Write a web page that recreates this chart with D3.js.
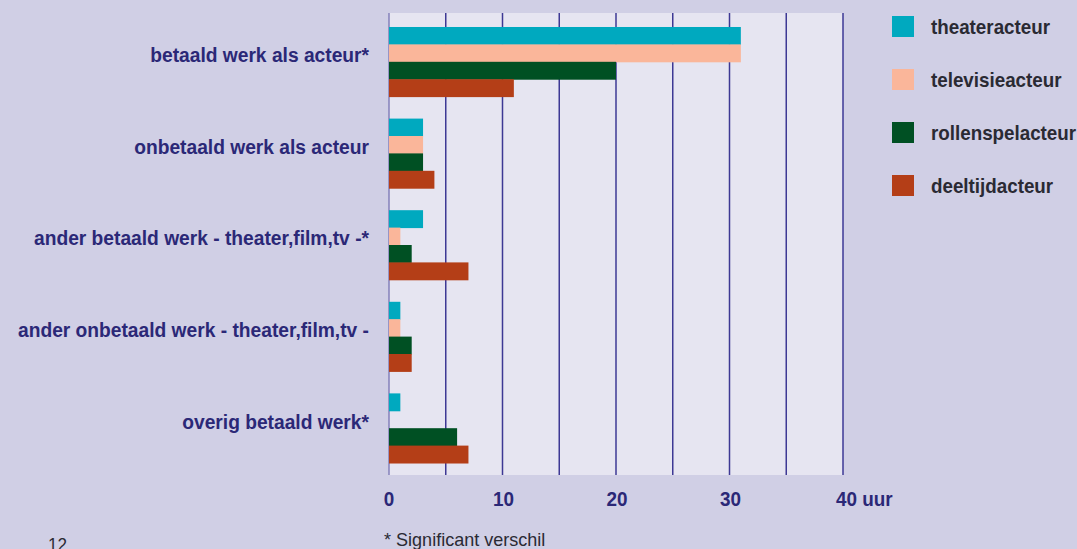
<!DOCTYPE html>
<html>
<head>
<meta charset="utf-8">
<script src="https://cdn.jsdelivr.net/npm/d3@7"></script>
<style>
  body { margin: 0; background: #d0cfe5; }
  svg { display: block; }
  text { font-family: "Liberation Sans", Arial, sans-serif; }
  .cat-label { font-weight: bold; font-size: 21px; fill: #2b2877; }
  .tick-label { font-weight: bold; font-size: 21px; fill: #2b2877; }
  .legend-label { font-weight: bold; font-size: 20px; fill: #2a2a33; }
  .note { font-size: 19px; fill: #2a2a33; }
</style>
</head>
<body>
<div class="vis-barchart"></div>
<script>
const categories = [
  "betaald werk als acteur*",
  "onbetaald werk als acteur",
  "ander betaald werk - theater,film,tv -*",
  "ander onbetaald werk - theater,film,tv -",
  "overig betaald werk*"
];
const seriesNames = ["theateracteur", "televisieacteur", "rollenspelacteur", "deeltijdacteur"];
const seriesColors = ["#00a9bf", "#fab69a", "#005023", "#b43e17"];
const theaterValues = [31, 3, 3, 1, 1];
const televisieValues = [31, 3, 1, 1, 0];
const rollenspelValues = [20, 3, 2, 2, 6];
const deeltijdValues = [11, 4, 7, 2, 7];
const tickValues = [0, 10, 20, 30, 40];

const allValues = [theaterValues, televisieValues, rollenspelValues, deeltijdValues];

const width = 1077, height = 549;
const plot = { left: 389, right: 843, top: 13, bottom: 475 };
// condensed look (Helvetica Condensed is not available)
const squeeze = 0.915;

const svg = d3.select(".vis-barchart")
  .append("svg")
  .attr("width", width)
  .attr("height", height);

svg.append("rect")
  .attr("width", width).attr("height", height)
  .attr("fill", "#d0cfe5");

let x = d3.scaleLinear().domain([0, 40]).range([plot.left, plot.right]);
let y = d3.scaleBand()
  .domain(categories)
  .range([plot.top + 3, plot.bottom - 1])
  .paddingInner(0.24)
  .paddingOuter(0.12);
let ySub = d3.scaleBand().domain(seriesNames).range([0, y.bandwidth()]);

// plot background
svg.append("rect")
  .attr("x", plot.left).attr("y", plot.top)
  .attr("width", plot.right - plot.left)
  .attr("height", plot.bottom - plot.top)
  .attr("fill", "#e6e5f1");

// grid lines every 5 uur
svg.append("g")
  .selectAll("line")
  .data(d3.range(0, 41, 5))
  .enter()
  .append("line")
  .attr("x1", (d) => x(d)).attr("x2", (d) => x(d))
  .attr("y1", plot.top).attr("y2", plot.bottom)
  .attr("stroke", (d) => (d === 0 ? "#8481ba" : "#3d3894"))
  .attr("stroke-width", 1.5);

// bars
const groups = svg.append("g")
  .selectAll("g")
  .data(categories)
  .enter()
  .append("g")
  .attr("transform", (d) => "translate(0," + y(d) + ")");

groups.selectAll("rect")
  .data((d, i) => seriesNames.map((s, j) => ({ series: s, value: allValues[j][i], color: seriesColors[j] })))
  .enter()
  .append("rect")
  .attr("x", x(0))
  .attr("y", (d) => ySub(d.series))
  .attr("width", (d) => x(d.value) - x(0))
  .attr("height", ySub.bandwidth() + 0.5)
  .attr("fill", (d) => d.color);

// category labels
svg.append("g")
  .selectAll("text")
  .data(categories)
  .enter()
  .append("text")
  .attr("class", "cat-label")
  .attr("transform", (d) => "translate(369," + (y(d) + y.bandwidth() / 2 - 7) + ") scale(" + squeeze + ",1)")
  .attr("dy", "0.35em")
  .style("text-anchor", "end")
  .text((d) => d);

// x tick labels
svg.append("g")
  .selectAll("text")
  .data(tickValues)
  .enter()
  .append("text")
  .attr("class", "tick-label")
  .attr("transform", (d) => "translate(" + (x(d) + (d === 0 ? 0 : 1) + (d === 40 ? -8 : 0)) + ",506) scale(0.9,1)")
  .style("text-anchor", (d) => (d === 40 ? "start" : "middle"))
  .text((d) => (d === 40 ? d + " uur" : d));

// legend
const legend = svg.append("g")
  .selectAll("g")
  .data(seriesNames)
  .enter()
  .append("g")
  .attr("transform", (d, i) => "translate(892," + (16 + i * 53) + ")");

legend.append("rect")
  .attr("width", 22).attr("height", 21)
  .attr("fill", (d, i) => seriesColors[i]);

legend.append("text")
  .attr("class", "legend-label")
  .attr("transform", "translate(39,18) scale(0.94,1)")
  .text((d) => d);

svg.append("text")
  .attr("class", "note")
  .attr("transform", "translate(384,546) scale(0.95,1)")
  .text("* Significant verschil");

svg.append("text")
  .attr("class", "note")
  .attr("transform", "translate(48,551) scale(0.9,1)")
  .text("12");
</script>
</body>
</html>
